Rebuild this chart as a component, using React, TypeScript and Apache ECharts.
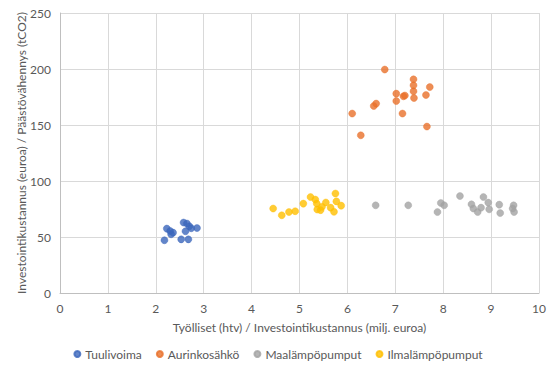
import React, { useEffect, useRef } from "react";
import * as echarts from "echarts";

const seriesNames = ["Tuulivoima", "Aurinkosähkö", "Maalämpöpumput", "Ilmalämpöpumput"];
const seriesColors = ["#3B67BC", "#E8712A", "#A3A3A3", "#FFBF00"];

const tuulivoima: [number, number][] = [
  [2.18, 47.1], [2.23, 57.5], [2.30, 55.4], [2.36, 53.9], [2.32, 52.4],
  [2.53, 47.9], [2.68, 47.9], [2.58, 62.9], [2.65, 62.0], [2.70, 59.6],
  [2.74, 57.8], [2.86, 58.0], [2.62, 55.1],
];

const aurinkosahko: [number, number][] = [
  [6.78, 199.5], [7.38, 190.8], [7.38, 185.4], [7.72, 183.9], [7.38, 180.1],
  [7.02, 178.0], [7.64, 176.8], [7.17, 175.6], [7.20, 176.3], [7.02, 171.4],
  [7.39, 174.1], [6.10, 160.2], [6.55, 167.0], [6.60, 169.1], [6.28, 140.8],
  [7.15, 160.2], [7.66, 148.6],
];

const maalampopumput: [number, number][] = [
  [6.59, 78.3], [7.27, 78.3], [7.88, 72.3], [7.95, 80.4], [8.02, 78.3],
  [8.35, 86.6], [8.59, 79.2], [8.63, 75.4], [8.72, 72.3], [8.79, 76.2],
  [8.84, 85.7], [8.94, 80.7], [8.96, 74.7], [9.17, 78.9], [9.19, 71.4],
  [9.47, 78.3], [9.45, 75.4], [9.48, 72.3],
];

const ilmalampopumput: [number, number][] = [
  [4.45, 75.4], [4.63, 69.4], [4.78, 72.3], [4.91, 73.0], [5.08, 79.8],
  [5.23, 85.7], [5.33, 83.4], [5.36, 79.8], [5.37, 74.5], [5.44, 74.0],
  [5.47, 77.0], [5.55, 80.8], [5.65, 76.2], [5.72, 72.5], [5.75, 88.8],
  [5.77, 81.8], [5.87, 78.0],
];

const xAxisTitle = "Työlliset (htv) / Investointikustannus (milj. euroa)";
const yAxisTitle = "Investointikustannus (euroa) / Päästövähennys (tCO2)";

const FONT = "Lato, 'Open Sans', sans-serif";
const TEXT = "#595959";

export default function App() {
  const ref = useRef<HTMLDivElement>(null);
  useEffect(() => {
    if (!ref.current) return;
    const chart = echarts.init(ref.current, undefined, { renderer: "svg" });
    const allData = [tuulivoima, aurinkosahko, maalampopumput, ilmalampopumput];
    chart.setOption({
      animation: false,
      backgroundColor: "#ffffff",
      textStyle: { fontFamily: FONT },
      grid: { left: 60, right: 17, top: 13, bottom: 80 },
      legend: {
        bottom: 8,
        left: "center",
        icon: "circle",
        itemWidth: 6,
        itemHeight: 6,
        itemGap: 14,
        textStyle: { color: TEXT, fontSize: 12, fontFamily: FONT },
        data: seriesNames,
      },
      xAxis: {
        type: "value",
        min: 0,
        max: 10,
        interval: 1,
        name: xAxisTitle,
        nameLocation: "middle",
        nameGap: 28,
        nameMoveOverlap: false,
        nameTextStyle: { color: TEXT, fontSize: 12, fontFamily: FONT },
        axisLine: { show: true, lineStyle: { color: "#BFBFBF" } },
        axisTick: { show: false },
        axisLabel: { color: TEXT, fontSize: 12, margin: 9, fontFamily: FONT },
        splitLine: { show: true, lineStyle: { color: "#D9D9D9" } },
      },
      yAxis: {
        type: "value",
        min: 0,
        max: 250,
        interval: 50,
        name: yAxisTitle,
        nameLocation: "middle",
        nameGap: 33,
        nameMoveOverlap: false,
        nameTextStyle: { color: TEXT, fontSize: 12, fontFamily: FONT },
        axisLine: { show: true, lineStyle: { color: "#BFBFBF" } },
        axisTick: { show: false },
        axisLabel: { color: TEXT, fontSize: 12, margin: 9, fontFamily: FONT },
        splitLine: { show: true, lineStyle: { color: "#D9D9D9" } },
      },
      series: seriesNames.map((name, i) => ({
        name,
        type: "scatter",
        data: allData[i],
        symbol: "circle",
        symbolSize: 7,
        itemStyle: { color: seriesColors[i], borderColor: seriesColors[i], borderWidth: 0.5 },
      })),
    });
    return () => chart.dispose();
  }, []);
  return (
    <div
      ref={ref}
      style={{ position: "fixed", left: 0, top: 0, width: 556, height: 373 }}
    />
  );
}
